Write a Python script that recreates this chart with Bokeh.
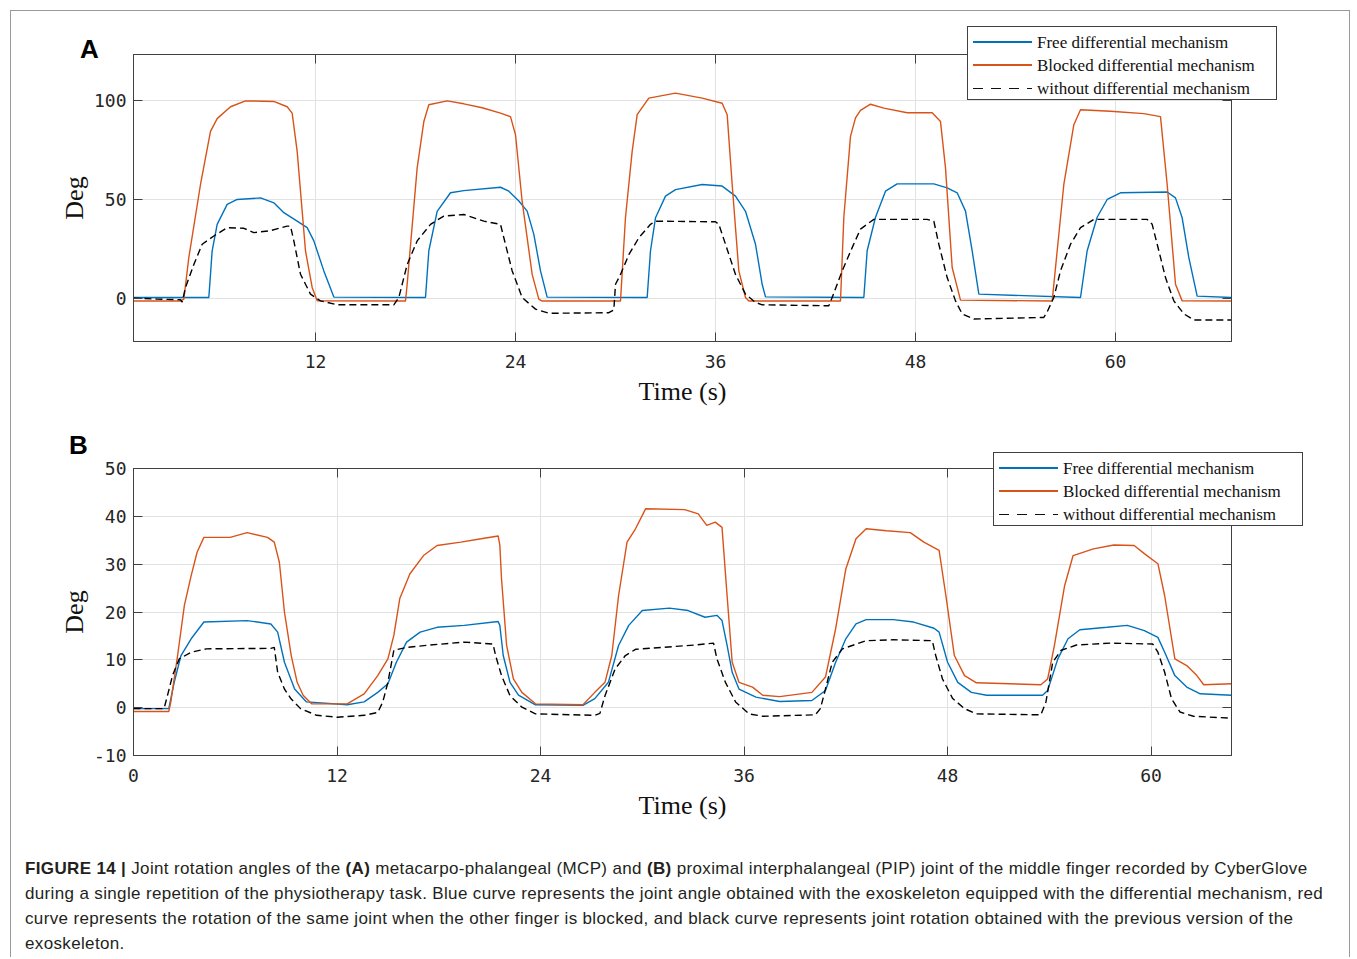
from bokeh.plotting import figure
from bokeh.models import Range1d, FixedTicker, LinearAxis, Div
from bokeh.layouts import column
from bokeh.embed import file_html
from bokeh.resources import INLINE

# ---------------- data (time s, angle deg) ----------------
a_free = [(1.08, 0.3), (5.6, 0.3), (5.8, 24), (6.1, 37.4), (6.7, 47.5), (7.3, 50), (8.7, 50.8), (9.5, 48.3),
          (10.1, 43.3), (10.9, 39), (11.5, 35.7), (11.9, 29), (12.5, 13.8), (13.1, 0.5), (18.6, 0.3), (18.8, 24),
          (19.3, 44), (20.1, 53.4), (20.9, 54.5), (23.1, 56.2), (23.6, 54.2), (24.2, 49.2), (24.7, 44.1),
          (25.1, 32.3), (25.5, 13.8), (25.9, 0.5), (31.9, 0.3), (32.1, 24), (32.4, 40.7), (33.0, 51.7),
          (33.6, 55), (35.2, 57.6), (36.4, 56.8), (37.2, 51.7), (37.8, 44), (38.4, 27.3), (38.8, 7), (39.0, 0.6),
          (44.9, 0.3), (45.1, 24), (45.6, 41), (46.2, 54.2), (46.9, 57.9), (49.1, 57.9), (49.9, 55.9),
          (50.5, 53.4), (51.0, 44.1), (51.4, 24), (51.8, 2), (57.9, 0.3), (58.3, 24), (58.9, 41), (59.5, 50),
          (60.3, 53.4), (63.1, 53.8), (63.6, 50.8), (64.0, 40.7), (64.4, 20.5), (64.9, 1), (66.96, 0.3)]
a_blocked = [(1.08, -1.5), (3.9, -1.5), (4.1, -0.5), (4.4, 20.6), (5.1, 57.6), (5.7, 84.5), (6.1, 91), (6.9, 97),
             (7.8, 100), (9.5, 99.7), (10.3, 97), (10.6, 93.8), (10.9, 74.4), (11.4, 23.9), (11.8, 5.4),
             (12.1, -1.4), (17.4, -1.5), (17.5, 7), (18.1, 66), (18.5, 89.5), (18.8, 98), (19.9, 100),
             (20.9, 98.5), (22.0, 96.5), (23.1, 93.8), (23.7, 92), (24.0, 82.8), (24.4, 49), (25.0, 12),
             (25.4, -0.5), (25.6, -1.5), (30.3, -1.5), (30.6, 41), (31.0, 74.4), (31.3, 93), (32.0, 101.4),
             (33.6, 103.9), (35.2, 101.4), (36.4, 98.8), (36.7, 93), (37.0, 57.6), (37.4, 13.8), (37.8, 0.3),
             (38.0, -1.5), (43.5, -1.5), (43.7, 41), (44.1, 82), (44.4, 91.4), (44.7, 95.2), (45.3, 98.3),
             (46.1, 96.3), (47.5, 94), (49.0, 94), (49.5, 89.5), (49.8, 66), (50.2, 15.5), (50.7, -1),
             (56.2, -1.5), (56.5, 23.9), (56.9, 57.6), (57.5, 87.9), (57.9, 95.5), (59.7, 94.7), (61.7, 93.5),
             (62.7, 92), (63.1, 57.6), (63.6, 7), (64.0, -1.4), (66.96, -1.5)]
a_without = [(1.08, 0), (2.5, -0.5), (3.9, -0.8), (4.0, -2), (4.2, 5.4), (4.7, 17), (5.2, 27.3), (5.9, 31.5),
             (6.7, 35.7), (7.7, 35.4), (8.3, 33.2), (9.3, 34.2), (10.3, 36.5), (10.5, 36.5), (10.7, 29),
             (11.1, 12.1), (11.7, 2), (12.3, -1.4), (13.3, -3.4), (16.7, -3.4), (17.0, 0.3), (17.5, 17),
             (18.1, 29), (18.9, 37.4), (19.7, 41.6), (20.9, 42.4), (22.1, 39), (23.1, 37.4), (23.3, 30.6),
             (23.8, 13.8), (24.4, 0.3), (25.2, -5.6), (26.0, -7.7), (29.6, -7.4), (29.9, -6), (30.0, 7),
             (30.3, 12), (30.8, 22), (31.4, 30.6), (32.1, 37.4), (32.4, 39), (36.0, 38.7), (36.2, 37.4),
             (36.6, 27.3), (37.2, 12), (37.8, 2), (38.4, -2.2), (38.8, -3.4), (42.8, -3.9), (43.0, 0.3),
             (43.6, 13.8), (44.2, 25.6), (44.7, 35), (45.5, 39.9), (48.7, 39.9), (49.1, 39), (49.4, 27.3),
             (49.9, 10.4), (50.4, -1.4), (50.8, -8), (51.5, -10.6), (55.7, -9.8), (55.9, -7), (56.3, 0.3),
             (56.7, 13.8), (57.3, 27.3), (57.9, 35.7), (58.7, 39.9), (61.9, 39.9), (62.2, 37.4), (62.6, 24),
             (63.0, 10.4), (63.5, -1.4), (64.1, -8), (64.7, -11.1), (66.96, -11.1)]

b_free = [(0, -0.2), (2.08, -0.2), (2.4, 5.3), (2.8, 10.9), (3.4, 14.4), (4.15, 17.9), (6.7, 18.2), (8.1, 17.5),
          (8.5, 15.8), (8.9, 9.5), (9.5, 3.9), (10.2, 1.2), (12.6, 0.6), (13.6, 1.2), (14.4, 3.2), (15.0, 5),
          (15.5, 9.5), (16.1, 13.7), (16.9, 15.8), (17.9, 16.8), (19.5, 17.2), (21.5, 18), (21.6, 17.2),
          (21.8, 10.9), (22.2, 5.3), (22.7, 2.6), (23.7, 0.6), (26.5, 0.5), (27.2, 1.9), (28.0, 5.3),
          (28.6, 13), (29.2, 17.2), (30.0, 20.3), (31.6, 20.8), (32.7, 20.3), (33.7, 18.9), (34.4, 19.3),
          (34.7, 18.2), (35.0, 13), (35.3, 7.4), (35.7, 3.9), (36.7, 2.2), (38.1, 1.3), (40.0, 1.5),
          (40.8, 3.6), (41.4, 9.5), (42.0, 14.4), (42.6, 17.5), (43.2, 18.4), (44.8, 18.4), (46.0, 17.9),
          (47.2, 16.6), (47.5, 15.8), (48.0, 9.5), (48.6, 5.3), (49.4, 3.2), (50.3, 2.6), (53.6, 2.6),
          (53.9, 3.6), (54.5, 10.2), (55.1, 14.4), (55.8, 16.3), (57.4, 16.8), (58.6, 17.2), (59.6, 16.1),
          (60.4, 14.7), (60.8, 11.6), (61.4, 6.7), (62.1, 4.3), (62.9, 2.9), (64.74, 2.6)]
b_blocked = [(0, -0.8), (2.08, -0.8), (2.2, 1.2), (2.6, 10.9), (3.0, 21.4), (3.4, 27.6), (3.75, 32.5),
             (4.15, 35.6), (5.7, 35.6), (6.7, 36.6), (7.9, 35.6), (8.3, 34.6), (8.6, 30.4), (8.9, 20),
             (9.3, 10.9), (9.65, 5.3), (10.0, 2.6), (10.5, 0.8), (12.6, 0.8), (13.6, 2.9), (14.4, 6.7),
             (15.0, 10.2), (15.35, 15.1), (15.7, 22.8), (16.3, 28), (17.1, 31.8), (17.9, 33.9), (19.3, 34.6),
             (20.5, 35.3), (21.5, 35.9), (21.6, 34), (21.7, 26.9), (22.0, 13), (22.4, 6), (22.9, 3.2),
             (23.7, 0.8), (26.5, 0.6), (27.2, 3.2), (27.8, 5.3), (28.2, 10.9), (28.6, 23.4), (29.1, 34.6),
             (29.6, 37.4), (30.2, 41.6), (32.5, 41.4), (33.3, 40.5), (33.8, 38.1), (34.3, 38.8), (34.7, 37.7),
             (35.0, 23.4), (35.3, 9.5), (35.7, 5.3), (36.5, 4.3), (37.1, 2.6), (38.1, 2.3), (40.0, 3.2),
             (40.8, 6.4), (41.4, 16.5), (42.0, 29), (42.6, 35.3), (43.2, 37.4), (44.4, 37), (45.8, 36.6),
             (46.6, 34.6), (47.5, 32.9), (47.9, 23.4), (48.4, 10.9), (49.0, 6.7), (49.7, 5.2), (53.5, 4.8),
             (53.9, 6), (54.3, 13), (54.9, 25.5), (55.4, 31.8), (56.6, 33.2), (57.8, 34), (59.0, 33.9),
             (59.6, 32.2), (60.4, 30.1), (60.8, 23.4), (61.4, 10.2), (62.1, 8.8), (62.7, 6.7), (63.1, 4.8),
             (64.74, 5)]
b_without = [(0, -0.2), (1.8, -0.2), (2.0, 2.5), (2.3, 6.7), (2.7, 10.2), (3.4, 11.6), (4.3, 12.3), (8.1, 12.4),
             (8.3, 12.6), (8.5, 7.4), (8.9, 3.9), (9.3, 1.8), (9.85, -0.2), (10.8, -1.6), (12.0, -2),
             (13.6, -1.6), (14.4, -1), (14.7, 1.2), (15.0, 5.3), (15.35, 12), (16.1, 12.6), (17.5, 13.1),
             (19.5, 13.7), (21.2, 13.3), (21.35, 10.9), (21.7, 6.7), (22.2, 2.5), (22.9, 0.1), (23.7, -1.3),
             (27.2, -1.6), (27.5, -1.2), (27.8, 2.5), (28.4, 8.1), (29.0, 10.9), (29.6, 12.2), (31.2, 12.6),
             (33.1, 13.1), (34.2, 13.5), (34.4, 10.2), (34.9, 5.3), (35.5, 1.2), (36.3, -1.3), (37.1, -1.8),
             (40.2, -1.5), (40.5, -0.2), (40.8, 3.9), (41.2, 9.5), (41.8, 12.3), (43.2, 14), (44.8, 14.2),
             (47.1, 14), (47.3, 10.9), (47.7, 6), (48.3, 1.9), (49.0, -0.2), (49.7, -1.3), (53.5, -1.5),
             (53.8, 1.2), (54.2, 9.5), (54.7, 12), (55.6, 13.1), (57.6, 13.5), (60.1, 13.3), (60.4, 11.6),
             (60.8, 7.4), (61.2, 1.9), (61.7, -0.9), (62.5, -1.8), (64.74, -2.2)]

a_xticks = [12, 24, 36, 48, 60]
a_yticks = [0, 50, 100]
b_xticks = [0, 12, 24, 36, 48, 60]
b_yticks = [-10, 0, 10, 20, 30, 40, 50]
series_names = ["Free differential mechanism", "Blocked differential mechanism", "without differential mechanism"]

AX = "#404040"
BLUE = "#0072BD"
ORANGE = "#D95319"
DASH = "7 4"


def style_axis(ax, ticks, show_labels):
    ax.ticker = FixedTicker(ticks=ticks)
    ax.major_tick_in = 9
    ax.major_tick_out = 0
    ax.minor_tick_in = 0
    ax.minor_tick_out = 0
    ax.axis_line_color = AX
    ax.major_tick_line_color = AX
    if show_labels:
        ax.major_label_text_font = "DejaVu Sans Mono"
        ax.major_label_text_font_size = "18px"
        ax.major_label_text_color = "#262626"
        ax.major_label_standoff = 7
        ax.major_label_overrides = {t: str(t) for t in ticks}
        ax.axis_label_text_font = "Liberation Serif"
        ax.axis_label_text_font_size = "26px"
        ax.axis_label_text_font_style = "normal"
        ax.axis_label_text_color = "#111111"
    else:
        ax.major_label_overrides = {t: "" for t in ticks}
        ax.major_label_text_font_size = "1px"
        ax.major_label_standoff = 0


def panel(xr, yr, xticks, yticks, height, mtop, mbot, data):
    p = figure(width=1338, height=height, x_range=Range1d(*xr), y_range=Range1d(*yr),
               output_backend="svg", toolbar_location=None,
               min_border_left=122, min_border_right=118, min_border_top=mtop, min_border_bottom=mbot)
    p.outline_line_color = AX
    p.outline_line_width = 1
    p.background_fill_color = "white"
    p.border_fill_color = "white"
    style_axis(p.below[0], xticks, True)
    style_axis(p.left[0], yticks, True)
    p.below[0].axis_label = "Time (s)"
    p.left[0].axis_label = "Deg"
    p.below[0].major_label_standoff = 13
    p.below[0].axis_label_standoff = 6
    p.left[0].axis_label_standoff = 2
    top = LinearAxis()
    style_axis(top, xticks, False)
    p.add_layout(top, "above")
    right = LinearAxis()
    style_axis(right, yticks, False)
    p.add_layout(right, "right")
    p.xgrid.grid_line_color = "#e2e2e2"
    p.ygrid.grid_line_color = "#e2e2e2"

    free, blocked, without = data
    p.line([d[0] for d in free], [d[1] for d in free], line_color=BLUE, line_width=1.4)
    p.line([d[0] for d in blocked], [d[1] for d in blocked], line_color=ORANGE, line_width=1.4)
    p.line([d[0] for d in without], [d[1] for d in without], line_color="black", line_width=1.4,
           line_dash=DASH)
    return p


def legend_box(left, top):
    swatches = [f"background:{BLUE}", f"background:{ORANGE}",
                "background:repeating-linear-gradient(to right, #111 0 10px, transparent 10px 18px)"]
    rows = []
    for i, (name, sw) in enumerate(zip(series_names, swatches)):
        c = 15 + 23.2 * i
        rows.append(f'<div style="position:absolute;left:5px;top:{c - 0.75:.2f}px;width:59px;height:1.5px;{sw}"></div>')
        rows.append(f'<div style="position:absolute;left:69px;top:{c - 11:.2f}px;line-height:24px;'
                    f'white-space:nowrap;">{name}</div>')
    html = ('<div style="position:relative;box-sizing:border-box;width:310px;height:74px;'
            'border:1px solid #404040;background:white;'
            'font-family:\'Liberation Serif\',serif;font-size:17px;color:#111;">' + "".join(rows) + '</div>')
    return Div(text=html, width=312, height=82,
               styles={"position": "absolute", "left": f"{left}px", "top": f"{top}px", "z-index": "5",
                       "overflow": "visible"})


def letter(text, left, top):
    return Div(text=text, width=30, height=30,
               styles={"position": "absolute", "left": f"{left}px", "top": f"{top}px", "z-index": "5",
                       "font-family": "'Liberation Sans', Arial, sans-serif", "font-weight": "bold",
                       "font-size": "26px", "line-height": "26px", "color": "black"})


pa = panel((1.08, 66.96), (-22, 123.5), a_xticks, a_yticks, 409, 43, 79, (a_free, a_blocked, a_without))
pb = panel((0, 64.74), (-10, 50), b_xticks, b_yticks, 415, 48, 80, (b_free, b_blocked, b_without))

caption_html = (
    '<div style="font-family: \'Liberation Sans\', Arial, sans-serif; font-size: 17px; letter-spacing: 0.35px; '
    'line-height: 25px; color: #231f20; padding: 16px 0 0 9px; white-space: nowrap;">'
    '<b>FIGURE 14 |</b> Joint rotation angles of the <b>(A)</b> metacarpo-phalangeal (MCP) and <b>(B)</b> '
    'proximal interphalangeal (PIP) joint of the middle finger recorded by CyberGlove<br>'
    'during a single repetition of the physiotherapy task. Blue curve represents the joint angle obtained with '
    'the exoskeleton equipped with the differential mechanism, red<br>'
    'curve represents the rotation of the same joint when the other finger is blocked, and black curve '
    'represents joint rotation obtained with the previous version of the<br>'
    'exoskeleton.</div>'
)
caption = Div(text=caption_html, width=1328, height=112)

layout = column(pa, pb, caption,
                legend_box(951, 10), legend_box(977, 436),
                letter("A", 64, 20), letter("B", 53, 416),
                styles={"border": "1px solid #9a9a9a", "border-bottom": "none", "background": "white",
                        "position": "relative", "margin-left": "10px", "margin-top": "10px"})
open("out.html", "w").write(file_html(layout, INLINE))
